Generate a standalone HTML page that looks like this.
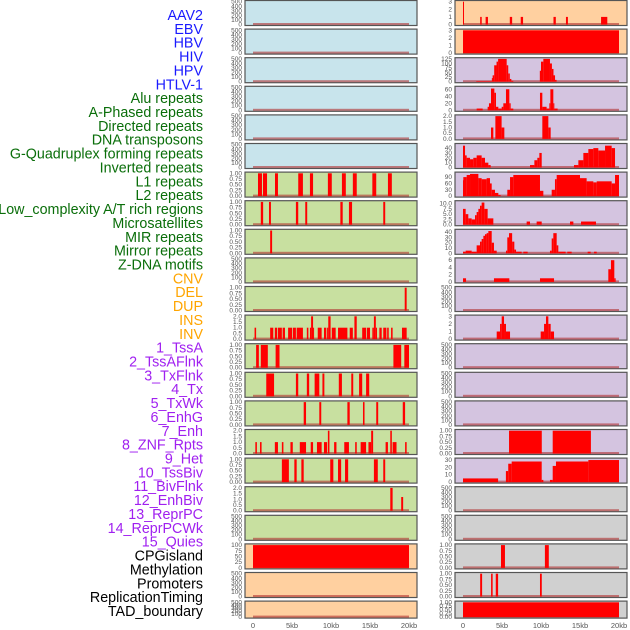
<!DOCTYPE html>
<html><head><meta charset="utf-8"><style>
html,body{margin:0;padding:0;background:#fff;}
svg{display:block;font-family:"Liberation Sans",sans-serif;}
</style></head><body>
<svg id="chart" width="630" height="630" viewBox="0 0 630 630" xmlns="http://www.w3.org/2000/svg"></svg>
<script>
const labels=["AAV2","EBV","HBV","HIV","HPV","HTLV-1","Alu repeats","A-Phased repeats","Directed repeats","DNA transposons","G-Quadruplex forming repeats","Inverted repeats","L1 repeats","L2 repeats","Low_complexity A/T rich regions","Microsatellites","MIR repeats","Mirror repeats","Z-DNA motifs","CNV","DEL","DUP","INS","INV","1_TssA","2_TssAFlnk","3_TxFlnk","4_Tx","5_TxWk","6_EnhG","7_Enh","8_ZNF_Rpts","9_Het","10_TssBiv","11_BivFlnk","12_EnhBiv","13_ReprPC","14_ReprPCWk","15_Quies","CPGisland","Methylation","Promoters","ReplicationTiming","TAD_boundary"];
const labelColors=[0,0,0,0,0,0,1,1,1,1,1,1,1,1,1,1,1,1,1,2,2,2,2,2,3,3,3,3,3,3,3,3,3,3,3,3,3,3,3,4,4,4,4,4];
const groupColors=["#1a1aff","#0a6e0a","#ffa500","#a020f0","#000000"];
const xTickLabels=["0","5kb","10kb","15kb","20kb"];
const xTickValues=[0,5,10,15,20];
const panelMax=[500,500,500,500,500,500,1,1,1,500,1,2,1,1,1,2,1,2,500,100,500,500,3,3,125,65,2,47,108,10.8,43,6.3,500,3,500,500,500,1,31,500,500,1,1,1];
const segAlu=[[0.64,1.15,1],[1.28,1.8,1],[2.82,3.2,1],[5.8,6.4,1],[7.3,7.7,1],[9.6,10.1,1],[11.4,11.9,1],[12.8,13.3,1],[15.3,15.8,1],[17.3,17.8,1]];
const segAPhased=[[1.0,1.3,1],[2.05,2.3,1],[5.5,5.8,1],[6.7,6.95,1],[11.2,11.5,1],[12.3,12.7,1],[16.7,16.95,1]];
const segDirected=[[2.2,2.45,1]];
const segGQuad=[[19.45,19.7,1]];
const segInverted=[[0.2,0.4,1],[2.2,2.6,1],[2.8,3.1,1],[3.2,3.7,1],[3.8,4.1,1],[4.5,5.0,1],[5.1,5.5,1],[5.6,6.4,1],[6.9,7.1,1],[7.3,7.45,1],[7.45,7.7,2],[7.7,7.8,1],[8.3,8.8,1],[9.1,9.4,1],[9.5,9.65,1],[9.65,9.95,2],[10.1,10.6,1],[10.9,12.1,1],[12.4,12.8,1],[13.0,13.3,2],[14.0,14.5,1],[14.6,15.0,1],[15.3,15.5,1],[15.5,15.75,2],[15.75,15.9,1],[16.2,16.5,1],[16.7,17.1,1],[17.2,17.4,1],[17.7,17.9,1],[19.1,19.7,1]];
const segL1=[[0.4,0.75,1],[1.0,1.9,1],[2.9,3.4,1],[18.0,19.0,1],[19.4,20.0,1]];
const segL2=[[1.7,2.7,1],[5.5,5.8,1],[6.9,7.2,1],[7.9,8.5,1],[8.9,9.15,1],[11.0,11.4,1],[12.6,12.85,1],[13.6,14.0,1],[14.5,14.9,1]];
const segLowCx=[[6.5,6.8,1],[8.5,8.75,1],[12.1,12.4,1],[14.1,14.3,1],[15.8,16.05,1],[19.2,19.5,1]];
const segMicrosat=[[0.3,0.5,1],[0.9,1.1,1],[2.8,3.2,1],[3.7,3.9,1],[4.8,5.1,1],[6.0,6.8,1],[7.4,7.7,1],[8.2,8.8,1],[9.1,9.5,1],[9.6,9.8,2],[10.4,10.7,1],[11.7,12.3,1],[13.1,13.3,1],[13.8,14.5,1],[14.8,15.15,1],[15.15,15.4,2],[17.0,17.3,1],[17.6,17.8,2],[17.9,18.4,1],[19.5,19.7,1]];
const segMIR=[[3.7,4.6,1],[5.3,5.6,1],[6.2,6.5,1],[9.9,10.3,1],[10.9,11.3,1],[11.8,12.2,1],[15.5,16.0,1],[16.7,16.95,1]];
const segMirror=[[17.6,17.9,2],[19.0,19.25,1.2]];
const segCNV=[[0,20,100]];
const segINS=[[0,0.12,3],[2.2,2.4,1],[2.9,3.2,1],[6.0,6.3,1],[7.4,7.7,1],[11.6,11.9,1],[13.2,13.45,1],[17.7,18.5,1]];
const segINV=[[0,20,3]];
const segTssA=[[1.7,3.7,3],[3.7,3.8,20],[3.8,4.0,35],[4.0,4.3,90],[4.3,4.5,110],[4.5,5.6,125],[5.6,5.8,90],[5.8,6.0,45],[6.0,6.2,15],[6.2,6.45,5],[9.85,10.0,60],[10.0,10.3,110],[10.3,11.15,125],[11.15,11.4,100],[11.4,11.6,70],[11.6,11.8,35],[11.8,12.0,10]];
const segTssAFlnk=[[1.75,2.52,5],[3.16,3.33,10],[3.33,3.59,20],[3.59,4.02,62],[4.02,4.23,50],[4.23,4.53,10],[4.53,4.96,5],[4.96,5.17,10],[5.17,5.51,20],[5.51,5.94,60],[5.94,6.11,20],[6.11,6.45,5],[9.87,10.17,50],[10.17,10.72,10],[10.72,11.07,5],[11.07,11.2,20],[11.2,11.58,60],[11.58,11.71,20],[11.71,12.13,5]];
const segTxFlnk=[[3.59,3.89,1],[4.15,4.95,2],[4.95,5.3,1],[10.17,10.94,2],[10.94,11.24,1]];
const segTx=[[0,0.26,45],[0.26,0.47,25],[0.47,0.9,20],[0.9,1.32,17],[1.32,1.75,20],[1.75,2.39,25],[2.39,2.82,20],[2.82,3.25,10],[3.25,3.55,5],[8.59,9.15,5],[9.15,9.53,15],[9.53,9.79,20],[9.79,10.09,30],[14.23,14.79,5],[14.79,15.43,15],[15.43,16.07,30],[16.07,16.71,38],[16.71,17.35,40],[17.35,18.21,35],[18.21,19.06,45],[19.06,19.49,40]];
const segTxWk=[[0,0.04,75],[0.04,0.47,90],[0.47,0.9,100],[0.9,1.97,105],[1.97,2.39,85],[2.39,3.03,80],[3.03,3.46,85],[3.46,3.68,60],[3.68,4.1,30],[4.1,4.53,15],[4.53,4.83,5],[5.68,6.03,30],[6.03,6.45,90],[6.45,9.87,100],[9.87,10.3,25],[11.37,11.79,30],[11.79,12.01,80],[12.01,15.0,100],[15.0,15.85,85],[15.85,16.71,70],[16.71,17.14,65],[17.14,19.06,70],[19.06,19.49,60],[19.49,20,100]];
const segEnhG=[[0,0.34,7.5],[0.34,0.68,5],[0.68,1.11,3],[1.11,1.54,2.5],[1.54,1.75,4.5],[1.75,1.97,6],[1.97,2.18,7.5],[2.18,2.39,9],[2.39,2.74,10.5],[2.74,3.16,7.5],[3.16,3.89,3],[8.16,8.59,1.5],[9.44,10.09,1.5],[13.72,14.15,1.5],[15.13,17.05,1.5]];
const segEnh=[[0,0.34,3],[0.34,1.11,5],[1.11,1.75,3],[1.75,2.18,15],[2.18,2.39,22],[2.39,2.61,27],[2.61,2.82,33],[2.82,3.03,36],[3.03,3.25,38],[3.25,3.68,42],[3.68,3.97,20],[3.97,4.32,5],[5.51,5.68,5],[5.68,5.9,30],[5.9,6.3,38],[6.3,6.58,22],[6.58,6.8,7],[6.8,7.52,3],[7.73,8.29,3],[11.15,11.37,5],[11.37,11.58,28],[11.58,12.01,38],[12.01,12.22,15],[12.22,13.16,3],[13.37,13.93,3],[15.98,16.37,3],[16.8,17.14,3]];
const segZNF=[[0,0.39,1],[3.97,5.94,1],[9.87,11.67,1],[18.63,18.97,3.5],[18.97,19.4,6],[19.4,19.57,1]];
const segTssBiv=[[4.32,4.75,1],[4.75,4.96,2],[4.96,5.26,3],[5.26,5.51,2],[5.51,6.03,1],[9.96,10.39,1],[10.39,10.64,2],[10.64,10.94,3],[10.94,11.24,2],[11.24,11.67,1]];
const segReprPCWk=[[5.9,10.1,1],[11.5,16.4,1]];
const segQuies=[[0,4.5,5],[5.5,5.8,15],[5.8,6.24,25],[6.24,10.09,28],[10.09,10.3,3],[11.15,11.5,3],[11.5,11.92,22],[11.92,16.07,28],[16.07,20,30]];
const segPromoters=[[4.87,5.38,1],[10.5,11.0,1]];
const segRepTiming=[[2.2,2.45,1],[3.6,3.8,1],[4.2,4.5,1],[9.87,10.1,1]];
const segTAD=[[0,20,1]];
const panelSeries=[[],[],[],[],[],[],segAlu,segAPhased,segDirected,[],segGQuad,segInverted,segL1,segL2,segLowCx,segMicrosat,segMIR,segMirror,[],segCNV,[],[],segINS,segINV,segTssA,segTssAFlnk,segTxFlnk,segTx,segTxWk,segEnhG,segEnh,segZNF,[],segTssBiv,[],[],[],segReprPCWk,segQuies,[],[],segPromoters,segRepTiming,segTAD];
const tickSets={500:["0","100","200","300","400","500"],1:["0.00","0.25","0.50","0.75","1.00"],2:["0.0","0.5","1.0","1.5","2.0"],3:["0","1","2","3"],100:["0","25","50","75","100"],125:["0","25","50","75","100","125"],65:["0","20","40","60"],47:["0","10","20","30","40"],108:["0","30","60","90"],10.8:["0.0","2.5","5.0","7.5","10.0"],43:["0","10","20","30","40"],6.3:["0","2","4","6"],31:["0","10","20","30"]};
const bgLeft=["#c8e4ec","#c8e4ec","#c8e4ec","#c8e4ec","#c8e4ec","#c8e4ec","#c8e0a0","#c8e0a0","#c8e0a0","#c8e0a0","#c8e0a0","#c8e0a0","#c8e0a0","#c8e0a0","#c8e0a0","#c8e0a0","#c8e0a0","#c8e0a0","#c8e0a0","#ffd0a0","#ffd0a0","#ffd0a0"];
const bgRight=["#ffd0a0","#ffd0a0","#d4c4e0","#d4c4e0","#d4c4e0","#d4c4e0","#d4c4e0","#d4c4e0","#d4c4e0","#d4c4e0","#d4c4e0","#d4c4e0","#d4c4e0","#d4c4e0","#d4c4e0","#d4c4e0","#d4c4e0","#d0d0d0","#d0d0d0","#d0d0d0","#d0d0d0","#d0d0d0"];

const NS="http://www.w3.org/2000/svg";
const svg=document.getElementById('chart');
function mk(tag,attrs,parent){const e=document.createElementNS(NS,tag);for(const k in attrs)e.setAttribute(k,attrs[k]);(parent||svg).appendChild(e);return e;}

labels.forEach((t,i)=>{
  const el=mk('text',{x:203,y:(20+i*13.86).toFixed(1),'text-anchor':'end','font-size':'14.3',fill:groupColors[labelColors[i]]});
  el.textContent=t;
  
  
});

function xScale(col,kb){const x0=col===0?253:463;return x0+kb*7.8;}

for(let i=0;i<44;i++){
  const col=i<22?0:1, row=i%22;
  const T=0.5+row*28.6, H=row===21?17:25;
  const PX=col===0?245:455, PW=172;
  const g=mk('g',{});
  
  
  const bg=(col===0?bgLeft:bgRight)[row];
  mk('rect',{x:PX,y:T,width:PW,height:H,fill:bg,stroke:'#555',"stroke-width":1.2},g);
  const max=panelMax[i];
  const top=T+1.2, bot=T+H-1;
  const yS=v=>bot-(v/max)*(bot-top);
  const bl=mk('rect',{x:xScale(col,0),y:bot-1.5,width:20*7.8,height:2,fill:'#b03030',opacity:0.6},g);
  
  
  panelSeries[i].forEach(s=>{
    const x1=Math.max(PX+1,xScale(col,s[0])), x2=Math.min(PX+PW-1,xScale(col,s[1]));
    const r=mk('rect',{x:x1,y:yS(s[2]),width:Math.max(1,x2-x1),height:bot-yS(s[2]),fill:'#ff0000'},g);
    
    
  });
  const tks=tickSets[max]||[];
  tks.forEach(t=>{
    const v=parseFloat(t);
    const tl=mk('text',{x:PX-3,y:(yS(v)+2).toFixed(1),'text-anchor':'end','font-size':'6.5',fill:'#555'},g);
    tl.textContent=t;
    
    
  });
}
[0,1].forEach(col=>{
  xTickValues.forEach((v,k)=>{
    const t=mk('text',{x:xScale(col,v),y:628,'text-anchor':'middle','font-size':'7.5',fill:'#555'});
    t.textContent=xTickLabels[k];
    
    
  });
});
</script>
</body></html>
